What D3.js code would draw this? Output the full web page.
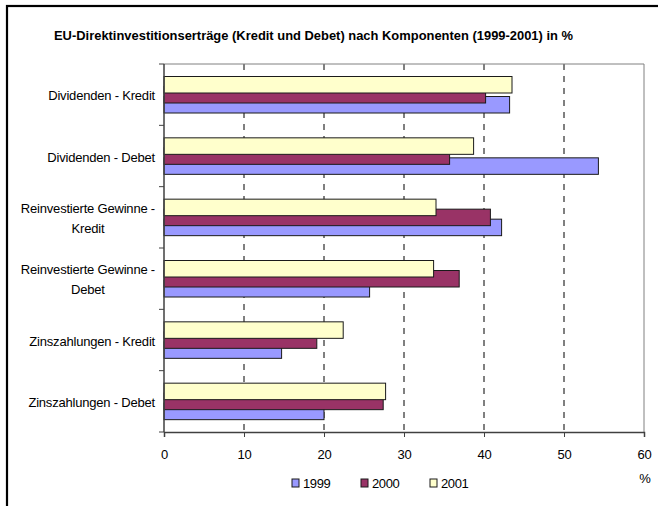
<!DOCTYPE html>
<html>
<head>
<meta charset="utf-8">
<script src="https://cdn.jsdelivr.net/npm/d3@7"></script>
<style>
  body { margin: 0; background: #fff; }
  svg { display: block; font-family: "Liberation Sans", Arial, sans-serif; }
</style>
</head>
<body>
<svg id="chart" width="658" height="506"></svg>
<script>
// Category labels (top to bottom), each split into display lines
const categories = [
  ["Dividenden - Kredit"],
  ["Dividenden - Debet"],
  ["Reinvestierte Gewinne -", "Kredit"],
  ["Reinvestierte Gewinne -", "Debet"],
  ["Zinszahlungen - Kredit"],
  ["Zinszahlungen - Debet"]
];
const years = ["1999", "2000", "2001"];
const values1999 = [43.2, 54.3, 42.2, 25.7, 14.7, 20.0];
const values2000 = [40.2, 35.7, 40.8, 36.9, 19.1, 27.4];
const values2001 = [43.5, 38.7, 34.0, 33.7, 22.4, 27.7];
const xTicks = [0, 10, 20, 30, 40, 50, 60];
const colors = { "1999": "#9999FF", "2000": "#993366", "2001": "#FFFFCC" };

const seriesValues = { "1999": values1999, "2000": values2000, "2001": values2001 };

const svg = d3.select("#chart");
const plot = { left: 164, right: 644, top: 64, bottom: 432 };

// outer frame
svg.append("rect")
  .attr("x", 7).attr("y", 6).attr("width", 700).attr("height", 600)
  .attr("fill", "none").attr("stroke", "#000").attr("stroke-width", 2.2);

// title
svg.append("text")
  .attr("x", 54).attr("y", 40)
  .attr("font-size", 12.5).attr("font-weight", "bold")
  .attr("textLength", 519).attr("lengthAdjust", "spacingAndGlyphs")
  .text("EU-Direktinvestitionserträge (Kredit und Debet) nach Komponenten (1999-2001) in %");

const x = d3.scaleLinear().domain([0, 60]).range([plot.left, plot.right]);
const y = d3.scaleBand().domain(d3.range(categories.length)).range([plot.top, plot.bottom]).padding(0);
// overlapping bars within each category: 2001 on top, 1999 at bottom
const sub = d3.scalePoint().domain(["2001", "2000", "1999"]).range([12.5, 32.5]);
const barH = 16.5;

// dashed gridlines
svg.append("g").selectAll("line")
  .data(xTicks.filter(t => t > 0 && t < 60))
  .join("line")
  .attr("x1", d => x(d)).attr("x2", d => x(d))
  .attr("y1", plot.top).attr("y2", plot.bottom)
  .attr("stroke", "#000").attr("stroke-width", 1)
  .attr("stroke-dasharray", "6,6");

// plot border (top & right)
svg.append("path")
  .attr("d", `M${plot.left},${plot.top}H${plot.right}V${plot.bottom}`)
  .attr("fill", "none").attr("stroke", "#808080").attr("stroke-width", 1);

// bars: draw 1999 first, then 2000, then 2001 overlapping
years.forEach(yr => {
  svg.append("g").selectAll("rect")
    .data(seriesValues[yr].map((v, i) => ({ v, i })))
    .join("rect")
    .attr("x", x(0))
    .attr("y", d => y(d.i) + sub(yr))
    .attr("width", d => x(d.v) - x(0))
    .attr("height", barH)
    .attr("fill", colors[yr])
    .attr("stroke", "#1a1a1a").attr("stroke-width", 1);
});

// x axis
const xAxis = d3.axisBottom(x).tickValues(xTicks).tickSize(5).tickPadding(13).tickFormat(d3.format("d"));
const gx = svg.append("g").attr("transform", `translate(0,${plot.bottom})`).call(xAxis);
gx.select(".domain").attr("stroke", "#404040").attr("stroke-width", 1.5);
gx.selectAll(".tick line").attr("stroke", "#404040");
gx.selectAll(".tick text").attr("font-size", 13).attr("letter-spacing", -0.3)
  .attr("font-family", "Liberation Sans, Arial, sans-serif").attr("fill", "#000");

// y axis line with ticks at category boundaries
const boundaries = d3.range(categories.length + 1).map(i => plot.top + i * y.step());
svg.append("line")
  .attr("x1", plot.left).attr("x2", plot.left)
  .attr("y1", plot.top).attr("y2", plot.bottom)
  .attr("stroke", "#404040").attr("stroke-width", 1.5);
svg.append("g").selectAll("line")
  .data(boundaries)
  .join("line")
  .attr("x1", plot.left - 5).attr("x2", plot.left)
  .attr("y1", d => d).attr("y2", d => d)
  .attr("stroke", "#404040");

// category labels: block right-aligned to the axis, lines centred within the block
const labelRight = 155;
const lab = svg.append("g").attr("font-size", 13).attr("letter-spacing", -0.2);
categories.forEach((lines, i) => {
  const cy = y(i) + y.bandwidth() / 2 + 1;
  const t = lab.append("text");
  const spans = lines.map((ln, k) =>
    t.append("tspan")
      .attr("y", cy + (k - (lines.length - 1) / 2) * 20)
      .attr("dy", "0.35em")
      .text(ln));
  if (lines.length === 1) {
    t.attr("text-anchor", "end");
    spans[0].attr("x", labelRight);
  } else {
    const w = d3.max(spans, s => s.node().getComputedTextLength());
    t.attr("text-anchor", "middle");
    spans.forEach(s => s.attr("x", labelRight - w / 2));
  }
});

// unit label
svg.append("text").attr("x", 645).attr("y", 483).attr("font-size", 13).attr("text-anchor", "middle").text("%");

// legend
const legendX = [292, 361, 430];
const lg = svg.append("g");
years.forEach((yr, i) => {
  lg.append("rect")
    .attr("x", legendX[i]).attr("y", 479).attr("width", 7).attr("height", 8)
    .attr("fill", colors[yr]).attr("stroke", "#1a1a1a").attr("stroke-width", 1);
  lg.append("text")
    .attr("x", legendX[i] + 11).attr("y", 488)
    .attr("font-size", 13).attr("letter-spacing", -0.4)
    .text(yr);
});
</script>
</body>
</html>
